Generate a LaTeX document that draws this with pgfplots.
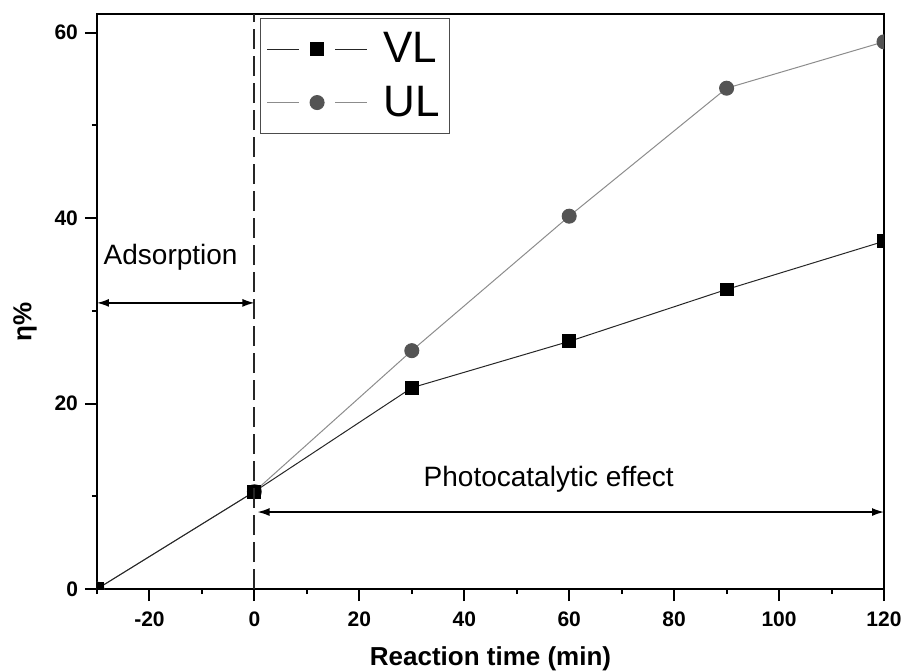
\documentclass[border=0pt]{standalone}
\usepackage{pgfplots}
\pgfplotsset{compat=1.18}
\usepackage{fontspec}
\setmainfont{Liberation Sans}
\usetikzlibrary{arrows.meta}
\definecolor{ulline}{gray}{0.55}
\definecolor{ulmark}{gray}{0.33}
\definecolor{vlline}{gray}{0.15}
\begin{document}
\begin{tikzpicture}
\useasboundingbox (-48.5pt,-41pt) rectangle (404pt,294.5pt);
\begin{axis}[
 scale only axis, width=393.5pt, height=287.5pt,
 xmin=-30, xmax=120, ymin=0, ymax=62,
 axis line style={line width=1.2pt},
 tick align=outside, tick pos=left,
 xtick={-20,0,...,120}, minor xtick={-30,-10,...,110},
 ytick={0,20,40,60}, minor ytick={10,30,50},
 major tick length=6pt, minor tick length=2.5pt,
 every tick/.style={black, line width=1pt},
 /pgf/number format/assume math mode=true,
 tick label style={font=\fontsize{10.5}{12}\selectfont\bfseries},
 xticklabel shift=2pt,
 xlabel={Reaction time (min)}, ylabel={η\%},
 label style={font=\fontsize{13}{15}\selectfont\bfseries},
 xlabel style={at={(axis description cs:0.5,-0.1217)}, anchor=center},
 ylabel style={at={(axis description cs:-0.0915,0.465)}, anchor=center},
 clip marker paths=true,
 reverse legend,
 legend style={at={(rel axis cs:0.2071,0.993)}, anchor=north west, draw=gray!60!black, line width=0.6pt, font=\fontsize{22}{24}\selectfont, legend cell align=left, inner xsep=3pt, inner ysep=5pt, row sep=6pt,
   /tikz/every odd column/.append style={column sep=6pt}},
 legend image code/.code={
   \draw[#1, mark=none] (0pt,0pt) -- (16pt,0pt);
   \draw[#1, mark=none] (34pt,0pt) -- (50pt,0pt);
   \draw[#1] plot coordinates {(25pt,0pt)};
 },
]
\addplot[color=ulline, line width=0.5pt, mark=*, mark size=3.5pt, mark options={fill=ulmark, draw=ulmark}] coordinates {(-30,0)(0,10.5)(30,25.7)(60,40.2)(90,54)(120,59)};
\addplot[color=vlline, line width=0.5pt, mark=square*, mark size=3.2pt, mark options={fill=black, draw=black}] coordinates {(-30,0)(0,10.5)(30,21.7)(60,26.7)(90,32.3)(120,37.5)};
\legend{UL,VL}
\draw[dash pattern=on 10pt off 3.5pt, line width=0.9pt, gray!30!black] (axis cs:0,0) -- (axis cs:0,62);
\draw[{Latex[length=6pt,width=4pt]}-{Latex[length=6pt,width=4pt]}, line width=0.7pt] (axis cs:-30,30.85) -- (axis cs:0,30.85);
\node[anchor=base west, font=\fontsize{14}{16}\selectfont, inner sep=0pt] at (axis cs:-28.8,34.95) {Adsorption};
\draw[{Latex[length=6pt,width=4pt]}-{Latex[length=6pt,width=4pt]}, line width=0.7pt] (axis cs:0.6,8.3) -- (axis cs:120,8.3);
\node[anchor=base, font=\fontsize{14}{16}\selectfont, inner sep=0pt] at (axis cs:56.1,11.0) {Photocatalytic effect};
\end{axis}
\end{tikzpicture}
\end{document}
